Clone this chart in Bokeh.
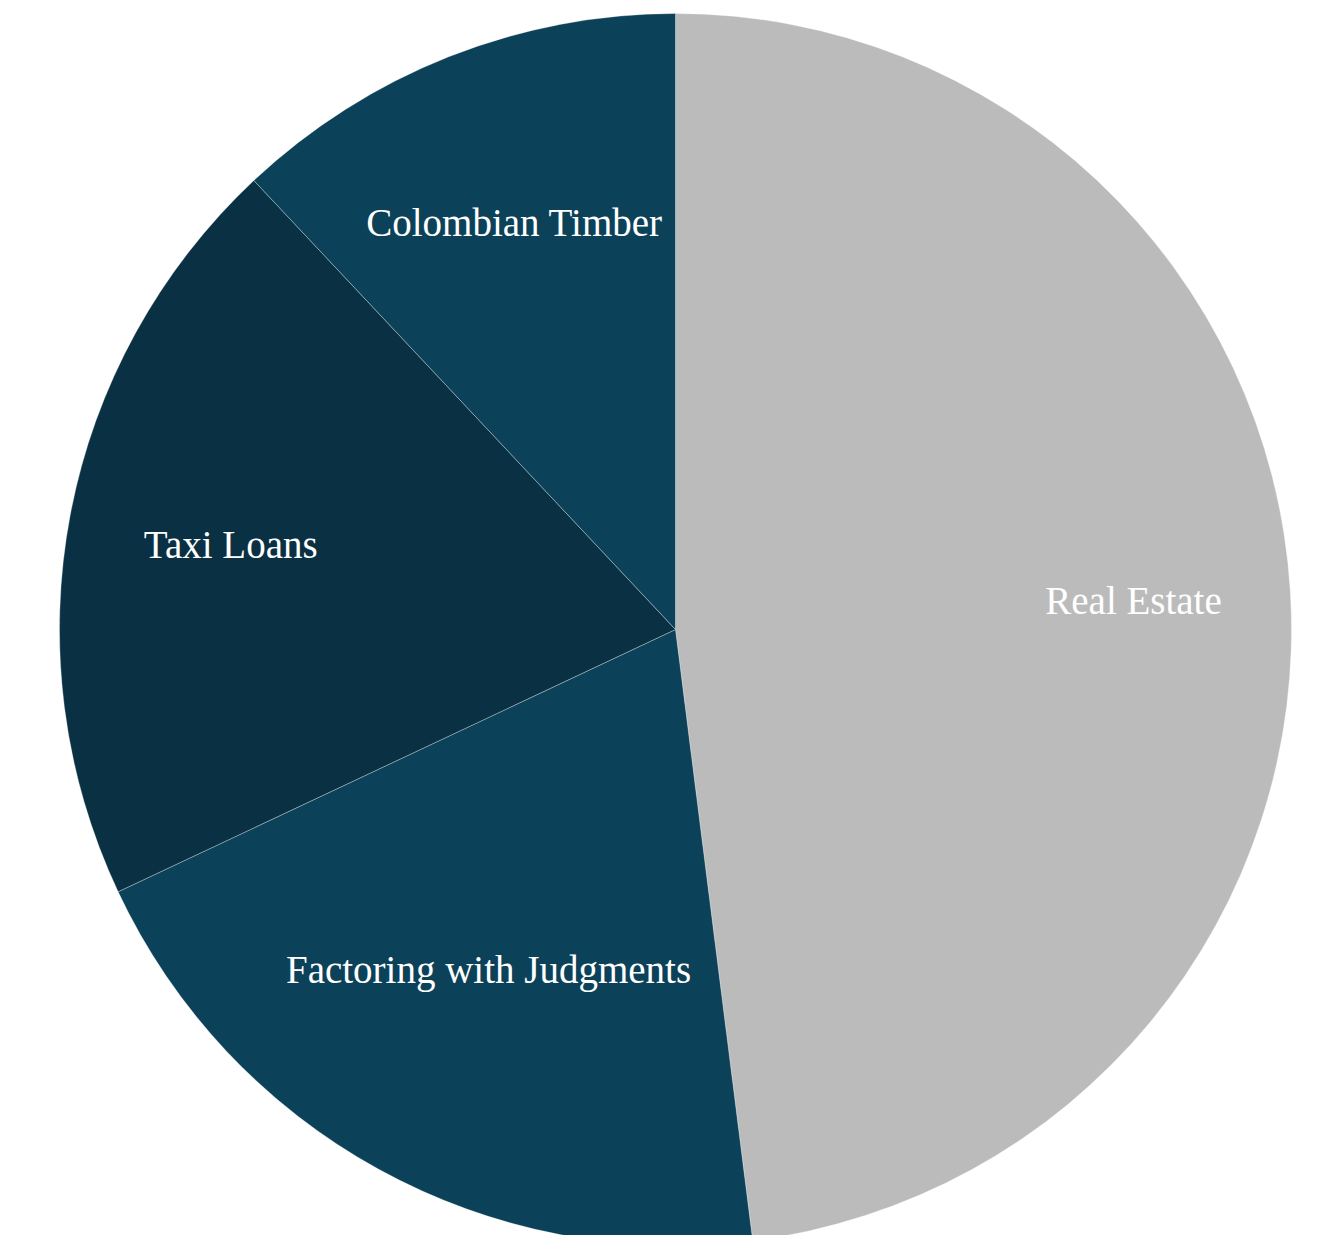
import math
from bokeh.plotting import figure
from bokeh.models import Range1d, ColumnDataSource
from bokeh.core.properties import value
from bokeh.embed import file_html
from bokeh.resources import INLINE

# data
categories = ["Real Estate", "Factoring with Judgments", "Taxi Loans", "Colombian Timber"]
shares = [48, 20, 20, 12]

# style
colors = ["#BBBBBB", "#0B4259", "#0A3044", "#0B4259"]
label_radius_factor = [0.745, 0.63, 0.735, 0.71]
R = 616

W, H = 1307, 1235
cx_px, cy_px = 675, 629

p = figure(width=W, height=H, output_backend="svg", toolbar_location=None,
           x_range=Range1d(-cx_px, W - cx_px), y_range=Range1d(-(H - cy_px), cy_px),
           min_border=0, border_fill_color="white", background_fill_color="white")
p.axis.visible = False
p.grid.visible = False
p.outline_line_color = None

total = float(sum(shares))
starts, ends, lx, ly = [], [], [], []
acc = 0.0
for s, f in zip(shares, label_radius_factor):
    a0 = math.pi / 2 - 2 * math.pi * acc / total
    a1 = math.pi / 2 - 2 * math.pi * (acc + s) / total
    starts.append(a0)
    ends.append(a1)
    mid = (a0 + a1) / 2
    lx.append(R * f * math.cos(mid))
    ly.append(R * f * math.sin(mid))
    acc += s

src = ColumnDataSource(dict(start=starts, end=ends, color=colors, label=categories,
                            lx=lx, ly=ly))

p.wedge(x=0, y=0, radius=R, start_angle="start", end_angle="end", direction="clock",
        fill_color="color", line_color="white", line_alpha=0.3, line_width=1, source=src)

p.text(x="lx", y="ly", text="label", source=src, text_color="white",
       text_font=value("Liberation Serif"), text_font_size="39px",
       text_align="center", text_baseline="middle")

open("out.html", "w").write(file_html(p, INLINE))
